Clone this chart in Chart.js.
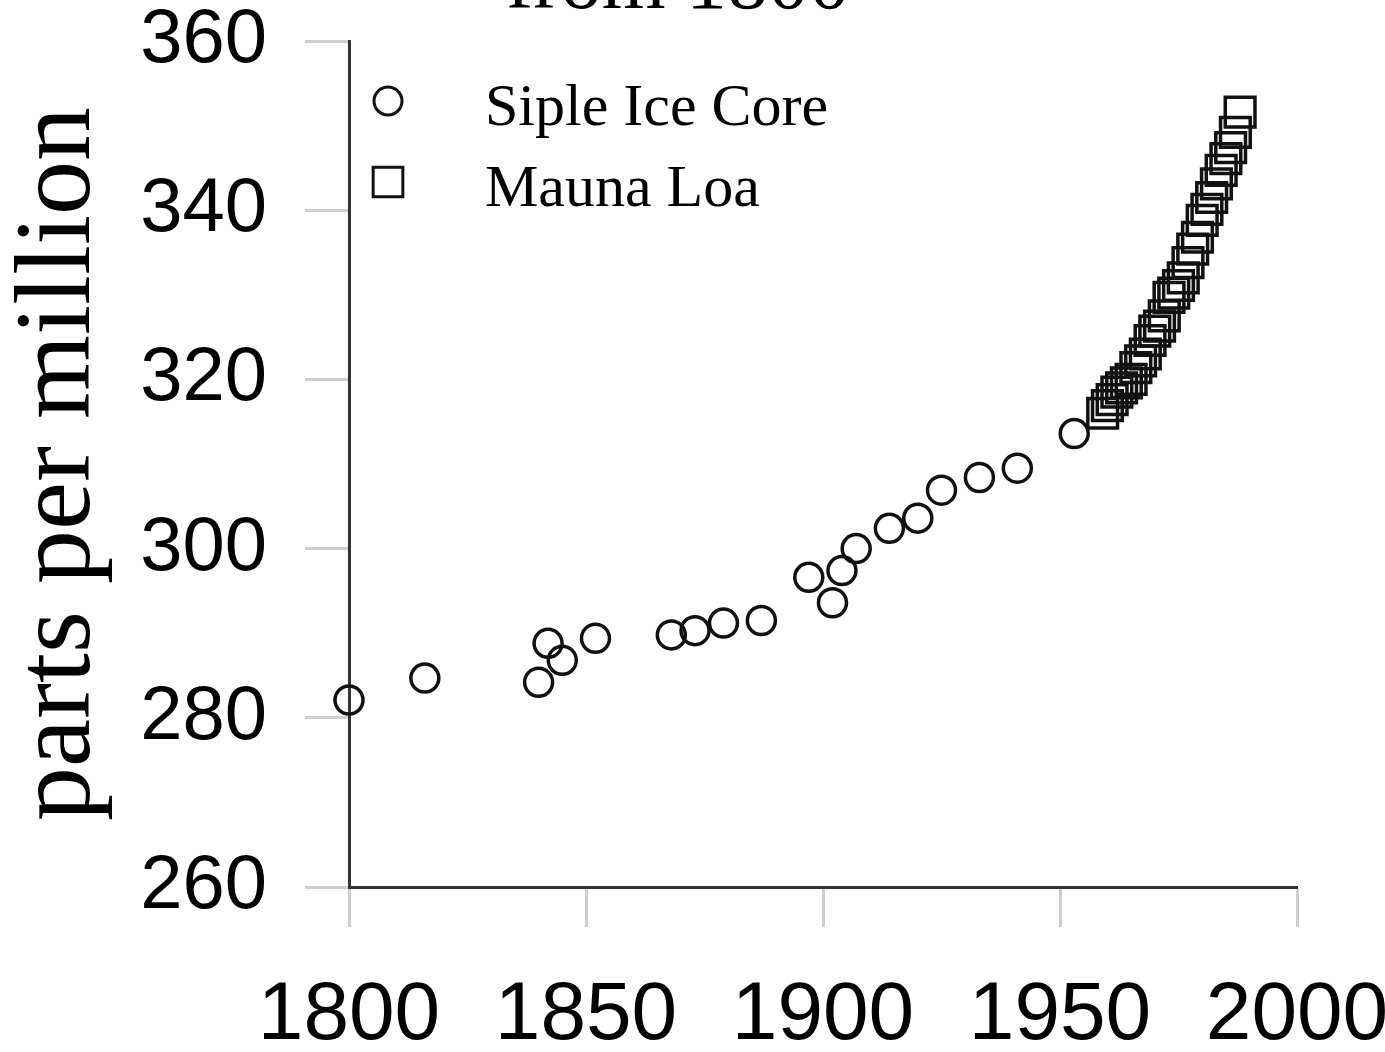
<!DOCTYPE html>
<html>
<head>
<meta charset="utf-8">
<script src="https://cdn.jsdelivr.net/npm/chart.js@4/dist/chart.umd.min.js"></script>
<style>
  html, body { margin: 0; padding: 0; background: #fff; }
  #wrap { width: 1385px; height: 1052px; position: relative; }
</style>
</head>
<body>
<div id="wrap"><canvas id="co2Chart"></canvas></div>
<script>
// Siple ice core samples (year, ppm)
const sipleYears = [1800, 1816, 1840, 1842, 1845, 1852, 1868, 1873, 1879, 1887,
                    1897, 1902, 1904, 1907, 1914, 1920, 1925, 1933, 1941, 1953];
const siplePpm = [282.1, 284.7, 284.2, 288.8, 286.8, 289.4, 289.8, 290.3, 291.2, 291.5,
                  296.6, 293.6, 297.4, 300.0, 302.4, 303.6, 306.9, 308.4, 309.5, 313.6];

// Mauna Loa annual means
const maunaYears = [1959, 1960, 1961, 1962, 1963, 1964, 1965, 1966, 1967, 1968,
                    1969, 1970, 1971, 1972, 1973, 1974, 1975, 1976, 1977, 1978,
                    1979, 1980, 1981, 1982, 1983, 1984, 1985, 1986, 1987, 1988];
const maunaPpm = [316.0, 316.9, 317.6, 318.5, 319.0, 319.6, 320.0, 321.4, 322.2, 323.0,
                  324.6, 325.7, 326.3, 327.5, 329.7, 330.2, 331.1, 332.0, 333.8, 335.4,
                  336.8, 338.8, 340.1, 341.5, 343.1, 344.7, 346.1, 347.4, 349.2, 351.6];

const seriesNames = ['Siple Ice Core', 'Mauna Loa'];
const xTicks = [1800, 1850, 1900, 1950, 2000];
const yTicks = [260, 280, 300, 320, 340, 360];
const titleText = 'from 1800';
const yAxisTitle = 'parts per million';

const toPoints = (xs, ys) => xs.map((x, i) => ({ x: x, y: ys[i] }));

// legend drawn inside the plot area, top-left
const innerLegend = {
  id: 'innerLegend',
  afterDraw(chart) {
    const ctx = chart.ctx;
    const area = chart.chartArea;
    ctx.save();
    chart.data.datasets.forEach((ds, i) => {
      const cy = area.top + 60 + i * 81;
      ctx.strokeStyle = ds.borderColor;
      ctx.fillStyle = 'rgba(0,0,0,0)';
      ctx.lineWidth = 3;
      Chart.helpers.drawPoint(ctx, {
        pointStyle: ds.pointStyle,
        radius: i === 0 ? 14 : 21,
        borderWidth: 3,
        rotation: 0
      }, area.left + 39, cy);
      ctx.fillStyle = '#000';
      ctx.font = '60px "Liberation Serif", "Times New Roman", serif';
      ctx.textAlign = 'left';
      ctx.textBaseline = 'alphabetic';
      ctx.fillText(ds.label, area.left + 136, cy + 24);
    });
    ctx.restore();
  }
};

// title mostly cut off at the top of the picture
const topTitle = {
  id: 'topTitle',
  afterDraw(chart) {
    const ctx = chart.ctx;
    ctx.save();
    ctx.fillStyle = '#000';
    ctx.font = '82px "Liberation Serif", "Times New Roman", serif';
    ctx.textAlign = 'center';
    ctx.textBaseline = 'alphabetic';
    ctx.fillText(titleText, 678, 8);
    ctx.restore();
  }
};

const ctx = document.getElementById('co2Chart').getContext('2d');
new Chart(ctx, {
  type: 'scatter',
  data: {
    datasets: [{
      label: seriesNames[0],
      data: toPoints(sipleYears, siplePpm),
      pointStyle: 'circle',
      pointRadius: 14,
      borderWidth: 3.5,
      borderColor: '#111',
      backgroundColor: 'rgba(0,0,0,0)',
      clip: false
    }, {
      label: seriesNames[1],
      data: toPoints(maunaYears, maunaPpm),
      pointStyle: 'rect',
      pointRadius: 21,
      borderWidth: 3.5,
      borderColor: '#111',
      backgroundColor: 'rgba(0,0,0,0)',
      clip: false
    }]
  },
  options: {
    responsive: true,
    maintainAspectRatio: false,
    animation: false,
    layout: { padding: { top: 41, right: 88, left: 0, bottom: 0 } },
    plugins: {
      legend: { display: false },
      title: { display: false },
      tooltip: { enabled: false }
    },
    scales: {
      x: {
        type: 'linear',
        min: xTicks[0],
        max: xTicks[xTicks.length - 1],
        afterBuildTicks(scale) { scale.ticks = xTicks.map(v => ({ value: v })); },
        afterFit(scale) { scale.height = 165; scale.paddingLeft = 0; scale.paddingRight = 0; },
        border: { display: true, color: '#333', width: 3 },
        grid: { drawOnChartArea: false, drawTicks: true, tickLength: 40, tickColor: '#cfcfcf', tickWidth: 3 },
        ticks: {
          color: '#000',
          padding: 40,
          maxRotation: 0,
          font: { family: '"Liberation Sans", Arial, sans-serif', size: 82 },
          callback: v => String(v)
        }
      },
      y: {
        type: 'linear',
        min: yTicks[0],
        max: yTicks[yTicks.length - 1],
        afterBuildTicks(scale) { scale.ticks = yTicks.map(v => ({ value: v })); },
        afterFit(scale) { scale.width = 349; scale.paddingTop = 0; scale.paddingBottom = 0; },
        border: { display: true, color: '#333', width: 3 },
        grid: { drawOnChartArea: false, drawTicks: true, tickLength: 44, tickColor: '#cfcfcf', tickWidth: 3 },
        title: {
          display: true,
          text: yAxisTitle,
          color: '#000',
          padding: { top: 7, bottom: 0 },
          font: { family: '"Liberation Serif", "Times New Roman", serif', size: 108, lineHeight: 1 }
        },
        ticks: {
          color: '#000',
          padding: 38,
          font: { family: '"Liberation Sans", Arial, sans-serif', size: 76 }
        }
      }
    }
  },
  plugins: [innerLegend, topTitle]
});
</script>
</body>
</html>
